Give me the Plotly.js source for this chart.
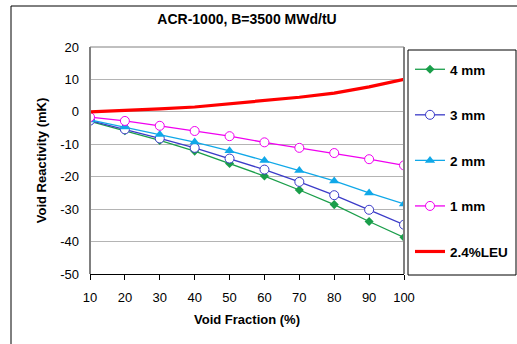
<!DOCTYPE html>
<html><head><meta charset="utf-8">
<script src="https://cdn.plot.ly/plotly-3.0.1.min.js"></script>
<style>body{margin:0;padding:0;background:#fff}#c{width:517px;height:344px}</style>
</head><body><div id="c"></div>
<script>
const voidFraction = [10, 20, 30, 40, 50, 60, 70, 80, 90, 100];
const mm4 = [-2.9, -5.8, -8.8, -12.1, -15.9, -19.8, -24.1, -28.6, -33.8, -38.7];
const mm3 = [-2.7, -5.4, -8.2, -11.1, -14.4, -17.8, -21.6, -25.7, -30.2, -34.8];
const mm2 = [-2.5, -4.7, -7.0, -9.3, -12.0, -15.0, -18.1, -21.3, -25.0, -28.4];
const mm1 = [-1.6, -2.8, -4.3, -5.9, -7.5, -9.4, -11.1, -12.7, -14.6, -16.5];
const leu = [0.0, 0.4, 0.9, 1.5, 2.5, 3.5, 4.5, 5.8, 7.7, 10.0];
const names = ['4 mm', '3 mm', '2 mm', '1 mm', '2.4%LEU'];
const yTicks = [20, 10, 0, -10, -20, -30, -40, -50];
const yTickText = ['20', '10', '0', '-10', '-20', '-30', '-40', '-50'];

const traces = [
  {x: voidFraction, y: mm4, name: names[0], mode: 'lines+markers', legendgroup: 'a',
   line: {color: '#1a9e4a', width: 1.3}, marker: {symbol: 'diamond', size: 7, color: '#1a9e4a'}},
  {x: voidFraction, y: mm3, name: names[1], mode: 'lines+markers', legendgroup: 'b',
   line: {color: '#3b3bc8', width: 1.3}, marker: {symbol: 'circle', size: 9, color: '#ffffff', line: {color: '#3b3bc8', width: 1}}},
  {x: voidFraction, y: mm2, name: names[2], mode: 'lines+markers', legendgroup: 'c',
   line: {color: '#10a8e8', width: 1.3}, marker: {symbol: 'triangle-up', size: 9, color: '#10a8e8'}},
  {x: voidFraction, y: mm1, name: names[3], mode: 'lines+markers', legendgroup: 'd',
   line: {color: '#f000f0', width: 1.3}, marker: {symbol: 'circle', size: 9, color: '#ffffff', line: {color: '#f000f0', width: 1}}},
  {x: voidFraction, y: leu, name: names[4], mode: 'lines', legendgroup: 'e',
   line: {color: '#ff0000', width: 3.2}}
];

const layout = {
  width: 517, height: 344,
  margin: {l: 90, r: 113, t: 47, b: 70, autoexpand: false},
  paper_bgcolor: '#ffffff', plot_bgcolor: '#ffffff',
  font: {family: 'Liberation Sans, Arial, sans-serif', color: '#000', size: 12},
  title: {text: '<b>ACR-1000, B=3500 MWd/tU</b>', font: {size: 14, color: '#000'},
          x: 0.5, xref: 'paper', xanchor: 'center', y: 1, yref: 'container', yanchor: 'top', pad: {t: 14}},
  xaxis: {range: [10, 100], tickvals: voidFraction, ticks: 'outside', ticklen: 5, tickcolor: '#000',
          showgrid: false, zeroline: false, showline: true, linecolor: '#000', linewidth: 1.3,
          ticklabelstandoff: 6,
          tickfont: {size: 13}, title: {text: '<b>Void Fraction (%)</b>', font: {size: 13}, standoff: 11}},
  yaxis: {range: [-50, 20], tickvals: yTicks, ticktext: yTickText, showgrid: true, gridcolor: '#b4b4b4', gridwidth: 1,
          zeroline: false, showline: false, ticks: '', ticklen: 0, ticklabelstandoff: 10, tickfont: {size: 13},
          title: {text: '<b>Void Reactivity (mK)</b>', font: {size: 13}, standoff: 10}},
  showlegend: true,
  legend: {x: (410-90)/314, xanchor: 'left', y: (274-54)/227, yanchor: 'top', bgcolor: 'rgba(0,0,0,0)',
           borderwidth: 0, tracegroupgap: 25, font: {size: 13.5, color: '#000', family: 'Liberation Sans, Arial, sans-serif', weight: 'bold'},
           traceorder: 'grouped', itemwidth: 30},
  shapes: [
    {type: 'line', xref: 'paper', yref: 'paper', x0: 0, x1: 0, y0: 0, y1: 1, line: {color: '#808080', width: 2}},
    {type: 'line', xref: 'paper', yref: 'paper', x0: 1, x1: 1, y0: 0, y1: 1, line: {color: '#808080', width: 2}},
    {type: 'line', xref: 'paper', yref: 'paper', x0: 0, x1: 1, y0: 1, y1: 1, line: {color: '#808080', width: 1}},
    {type: 'rect', xref: 'paper', yref: 'paper', x0: (408-90)/314, x1: (516-90)/314, y0: (274-275)/227, y1: (274-50)/227,
     line: {color: '#000', width: 1}},
    {type: 'line', xref: 'paper', yref: 'paper', x0: (11-90)/314, x1: (11-90)/314, y0: (274-344)/227, y1: (274-6)/227, line: {color: '#000', width: 1}},
    {type: 'line', xref: 'paper', yref: 'paper', x0: (11-90)/314, x1: (517-90)/314, y0: (274-6)/227, y1: (274-6)/227, line: {color: '#000', width: 1}}
  ]
};
Plotly.newPlot('c', traces, layout, {displayModeBar: false, staticPlot: true});
</script></body></html>
